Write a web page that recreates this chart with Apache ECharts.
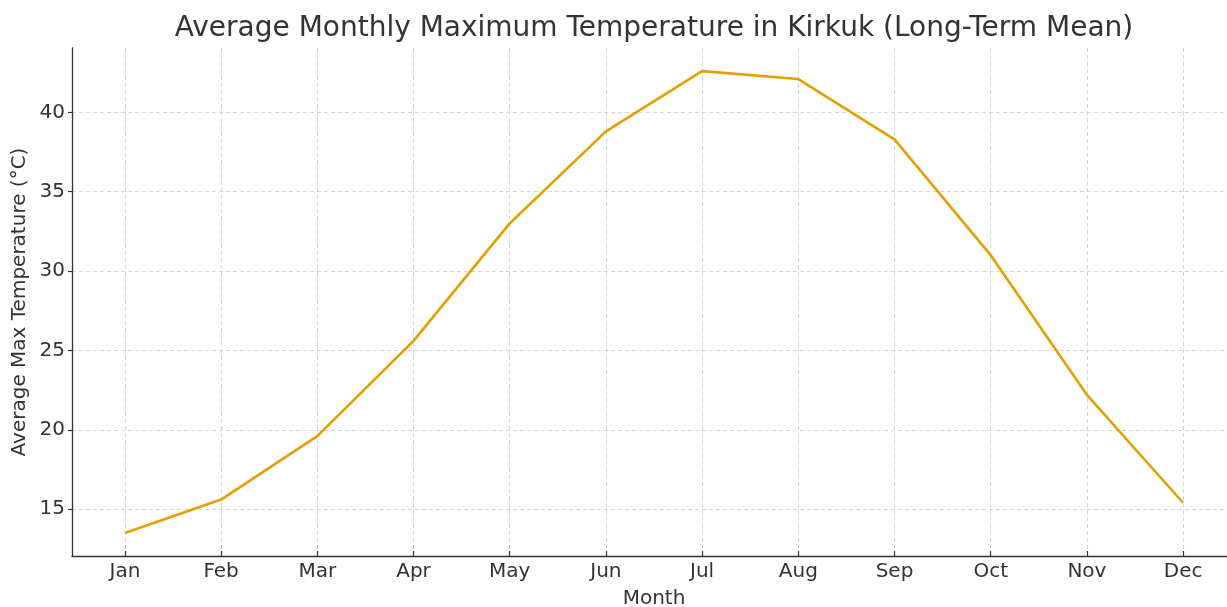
<!DOCTYPE html>
<html><head><meta charset="utf-8">
<script src="https://cdn.jsdelivr.net/npm/echarts@6/dist/echarts.min.js"></script>
<style>html,body{margin:0;padding:0;background:#fff}#c{width:1227px;height:607px}</style>
</head><body><div id="c"></div>
<script>
const months = ['Jan','Feb','Mar','Apr','May','Jun','Jul','Aug','Sep','Oct','Nov','Dec'];
const temps = [13.5, 15.6, 19.6, 25.6, 33.0, 38.8, 42.6, 42.1, 38.3, 31.0, 22.2, 15.4];
const yTickMin = 15, yTickMax = 40, yTickStep = 5;
const titleText = 'Average Monthly Maximum Temperature in Kirkuk (Long-Term Mean)';

const W = 1227, H = 607;
const L = 72, R = -9, T = 48, B = 51;
const pw = W - L - R, ph = H - T - B;
const xPad = 0.05 * (months.length - 1);
const xMin = -xPad, xMax = months.length - 1 + xPad;
const dMin = Math.min(...temps), dMax = Math.max(...temps);
const yPad = 0.05 * (dMax - dMin);
const yMin = dMin - yPad, yMax = dMax + yPad;

const xLeft = L + pw * (0 - xMin) / (xMax - xMin);
const xRight = W - (L + pw * (months.length - 1 - xMin) / (xMax - xMin));
const yTopPx = T + ph * (yMax - yTickMax) / (yMax - yMin);
const yBotPx = H - (T + ph * (yMax - yTickMin) / (yMax - yMin));

const txt = '#333333';
const font = 'DejaVu Sans';
const titleSize = 28, labelSize = 20;
const grid = {color: '#cccccc', type: [4, 3], width: 0.8};

const cv = document.createElement('canvas').getContext('2d');
cv.font = titleSize + 'px "' + font + '"';
const titleW = cv.measureText(titleText).width;
const titleLeft = L + pw / 2 - titleW / 2;

const chart = echarts.init(document.getElementById('c'), null, {renderer: 'canvas'});
chart.setOption({
  animation: false,
  backgroundColor: '#ffffff',
  textStyle: {fontFamily: font},
  title: {
    text: titleText, left: titleLeft, top: 15, padding: 0,
    textStyle: {fontFamily: font, fontSize: titleSize, fontWeight: 'normal', color: txt}
  },
  grid: [
    {left: L, right: R, top: T, bottom: B, outerBoundsMode: 'none', containLabel: false},
    {left: xLeft, right: xRight, top: T, bottom: B, outerBoundsMode: 'none', containLabel: false},
    {left: L, right: R, top: yTopPx, bottom: yBotPx, outerBoundsMode: 'none', containLabel: false}
  ],
  xAxis: [
    {gridIndex: 0, type: 'value', min: xMin, max: xMax,
     axisLine: {show: true, onZero: false, lineStyle: {color: txt, width: 1.3}},
     axisTick: {show: false}, axisLabel: {show: false}, splitLine: {show: false},
     name: 'Month', nameLocation: 'middle', nameGap: 33,
     nameTextStyle: {fontFamily: font, fontSize: labelSize, color: txt}},
    {gridIndex: 1, type: 'category', data: months, boundaryGap: false,
     axisLine: {show: false, onZero: false},
     axisTick: {show: true, inside: true, length: 5, lineStyle: {color: txt, width: 1.2}},
     axisLabel: {fontFamily: font, fontSize: labelSize, color: txt, margin: 6},
     splitLine: {show: true, lineStyle: grid}},
    {gridIndex: 2, type: 'value', show: false, min: 0, max: 1}
  ],
  yAxis: [
    {gridIndex: 0, type: 'value', min: yMin, max: yMax,
     axisLine: {show: true, onZero: false, lineStyle: {color: txt, width: 1.3}},
     axisTick: {show: false}, axisLabel: {show: false}, splitLine: {show: false},
     name: 'Average Max Temperature (°C)', nameLocation: 'middle', nameGap: 42,
     nameTextStyle: {fontFamily: font, fontSize: labelSize, color: txt}},
    {gridIndex: 1, type: 'value', show: false, min: 0, max: 1},
    {gridIndex: 2, type: 'value', min: yTickMin, max: yTickMax, interval: yTickStep,
     axisLine: {show: false, onZero: false},
     axisTick: {show: true, length: 4, lineStyle: {color: txt, width: 1.2}},
     axisLabel: {fontFamily: font, fontSize: labelSize, color: txt, margin: 7},
     splitLine: {show: true, lineStyle: grid}}
  ],
  series: [{
    type: 'line', xAxisIndex: 0, yAxisIndex: 0,
    data: temps.map((v, i) => [i, v]),
    showSymbol: false, symbol: 'none',
    lineStyle: {color: '#E69F00', width: 2.6},
    z: 5
  }]
});
</script></body></html>
